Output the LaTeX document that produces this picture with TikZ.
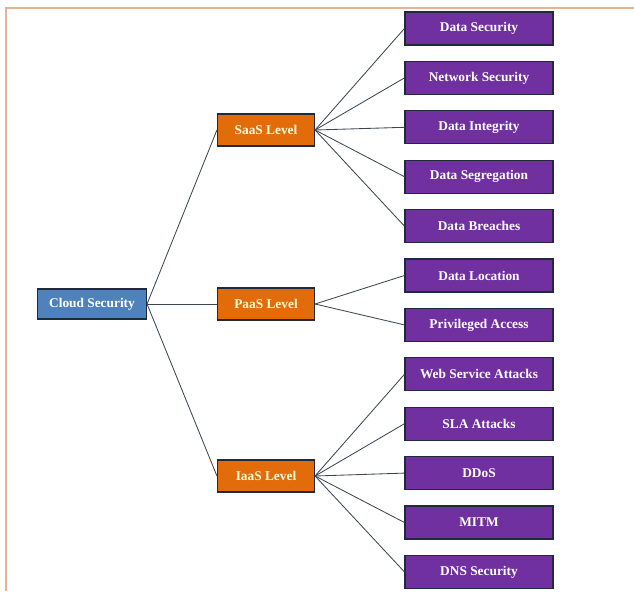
\documentclass[tikz,border=0pt]{standalone}
\usepackage{fontspec}
\setmainfont{Liberation Serif}
\usepackage{tikz}
\usetikzlibrary{positioning}

\definecolor{leafpurple}{HTML}{7030A0}
\definecolor{levelorange}{HTML}{E36C0A}
\definecolor{rootblue}{HTML}{4F81BD}
\definecolor{boxline}{HTML}{1F2A3C}
\definecolor{linkgray}{HTML}{3C4652}
\definecolor{framepeach}{HTML}{E8B296}

\begin{document}
\begin{tikzpicture}[node distance=1.235cm,
  root/.style={rectangle, draw=boxline, line width=0.8pt, fill=rootblue, text=white,
    minimum width=2.725cm, minimum height=0.75cm, inner sep=1pt,
    font=\fontsize{9.5}{11}\selectfont\bfseries},
  level/.style={rectangle, draw=boxline, line width=0.8pt, fill=levelorange, text=yellow!15,
    minimum width=2.425cm, minimum height=0.8cm, inner sep=1pt,
    font=\fontsize{9.5}{11}\selectfont\bfseries},
  leaf/.style={rectangle, draw=boxline, line width=0.8pt, fill=leafpurple, text=white,
    minimum width=3.7cm, minimum height=0.825cm, inner sep=1pt,
    font=\fontsize{9.5}{11}\selectfont\bfseries},
  link/.style={draw=linkgray, line width=0.6pt}]
\useasboundingbox (0,0) rectangle (15.85,-14.775);

% frame
\draw[framepeach, line width=1.2pt] (15.85,-0.2) -- (0.15,-0.2) -- (0.15,-14.775);

% root and levels
\node[root] (cloud) at (2.3,-7.6) {Cloud Security};
\node[level] (saas) at (6.65,-3.25) {SaaS Level};
\node[level] (paas) at (6.65,-7.6) {PaaS Level};
\node[level] (iaas) at (6.65,-11.9) {IaaS Level};

% leaves
\node[leaf] (dsec) at (11.975,-0.7125) {Data Security};
\node[leaf, below of=dsec] (nsec) {Network Security};
\node[leaf, below of=nsec] (dint) {Data Integrity};
\node[leaf, below of=dint] (dseg) {Data Segregation};
\node[leaf, below of=dseg] (dbre) {Data Breaches};
\node[leaf, below of=dbre] (dloc) {Data Location};
\node[leaf, below of=dloc] (priv) {Privileged Access};
\node[leaf, below of=priv] (wsa) {Web Service Attacks};
\node[leaf, below of=wsa] (sla) {SLA Attacks};
\node[leaf, below of=sla] (ddos) {DDoS};
\node[leaf, below of=ddos] (mitm) {MITM};
\node[leaf, below of=mitm] (dns) {DNS Security};

\foreach \lvl in {saas,paas,iaas}
  \draw[link] (cloud.east) -- (\lvl.west);
\foreach \lf in {dsec,nsec,dint,dseg,dbre}
  \draw[link] (saas.east) -- (\lf.west);
\foreach \lf in {dloc,priv}
  \draw[link] (paas.east) -- (\lf.west);
\foreach \lf in {wsa,sla,ddos,mitm,dns}
  \draw[link] (iaas.east) -- (\lf.west);
\end{tikzpicture}
\end{document}
